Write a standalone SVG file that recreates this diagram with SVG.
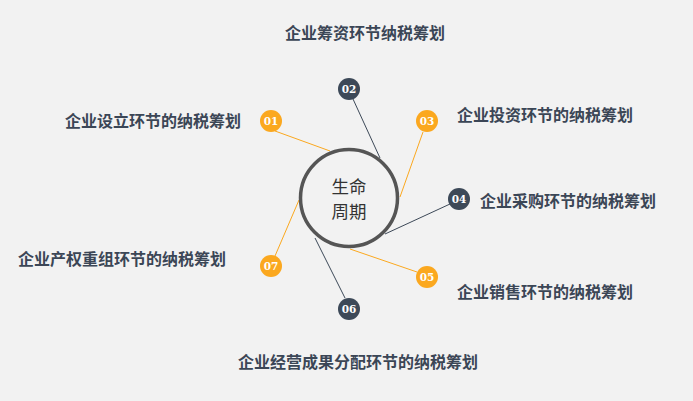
<svg xmlns="http://www.w3.org/2000/svg" width="693" height="401" viewBox="0 0 693 401">
<style>
.lbl{font-family:"Noto Sans CJK SC","Liberation Sans",sans-serif;font-size:16px;font-weight:bold;fill:#3b4656}
.num{font-family:"DejaVu Serif","Liberation Serif",serif;font-size:10.5px;font-weight:bold;fill:#fff;text-anchor:middle;dominant-baseline:central}
.o{fill:#FBA81F}
.d{fill:#3d4958}
.lo{stroke:#FBA81F;stroke-width:1}
.ld{stroke:#3d4958;stroke-width:1}
.ctr{font-family:"Noto Sans CJK SC","Liberation Sans",sans-serif;font-size:17.5px;fill:#333;text-anchor:middle}
</style>
<rect width="693" height="401" fill="#f2f2f2"/>
<g id="connectors" fill="none">
<line class="lo" x1="275" y1="131" x2="330" y2="151"/>
<line class="ld" x1="353" y1="99" x2="380" y2="158"/>
<line class="lo" x1="423" y1="132" x2="400" y2="197"/>
<line class="ld" x1="450" y1="204" x2="385" y2="234"/>
<line class="lo" x1="350" y1="249" x2="417" y2="272"/>
<line class="ld" x1="315" y1="238" x2="345" y2="298"/>
<line class="lo" x1="299" y1="200" x2="275" y2="256"/>
</g>
<g id="center">
<circle cx="349" cy="198" r="48.5" fill="#f2f2f2" stroke="#555" stroke-width="3.5"/>
<text class="ctr" x="349" y="193">生命</text>
<text class="ctr" x="349" y="218">周期</text>
</g>
<g id="n01"><circle class="o" cx="271" cy="121" r="11"/><text class="num" x="271" y="121">01</text><text class="lbl" x="241" y="127" text-anchor="end">企业设立环节的纳税筹划</text></g>
<g id="n02"><circle class="d" cx="349" cy="89" r="11"/><text class="num" x="349" y="89">02</text><text class="lbl" x="365" y="39" text-anchor="middle">企业筹资环节纳税筹划</text></g>
<g id="n03"><circle class="o" cx="427" cy="121" r="11"/><text class="num" x="427" y="121">03</text><text class="lbl" x="457" y="121">企业投资环节的纳税筹划</text></g>
<g id="n04"><circle class="d" cx="459" cy="199" r="11"/><text class="num" x="459" y="199">04</text><text class="lbl" x="480" y="207">企业采购环节的纳税筹划</text></g>
<g id="n05"><circle class="o" cx="427" cy="277" r="11"/><text class="num" x="427" y="277">05</text><text class="lbl" x="457" y="298">企业销售环节的纳税筹划</text></g>
<g id="n06"><circle class="d" cx="349" cy="309" r="11"/><text class="num" x="349" y="309">06</text><text class="lbl" x="358" y="368" text-anchor="middle">企业经营成果分配环节的纳税筹划</text></g>
<g id="n07"><circle class="o" cx="271" cy="266" r="11"/><text class="num" x="271" y="266">07</text><text class="lbl" x="226" y="265" text-anchor="end">企业产权重组环节的纳税筹划</text></g>
</svg>
